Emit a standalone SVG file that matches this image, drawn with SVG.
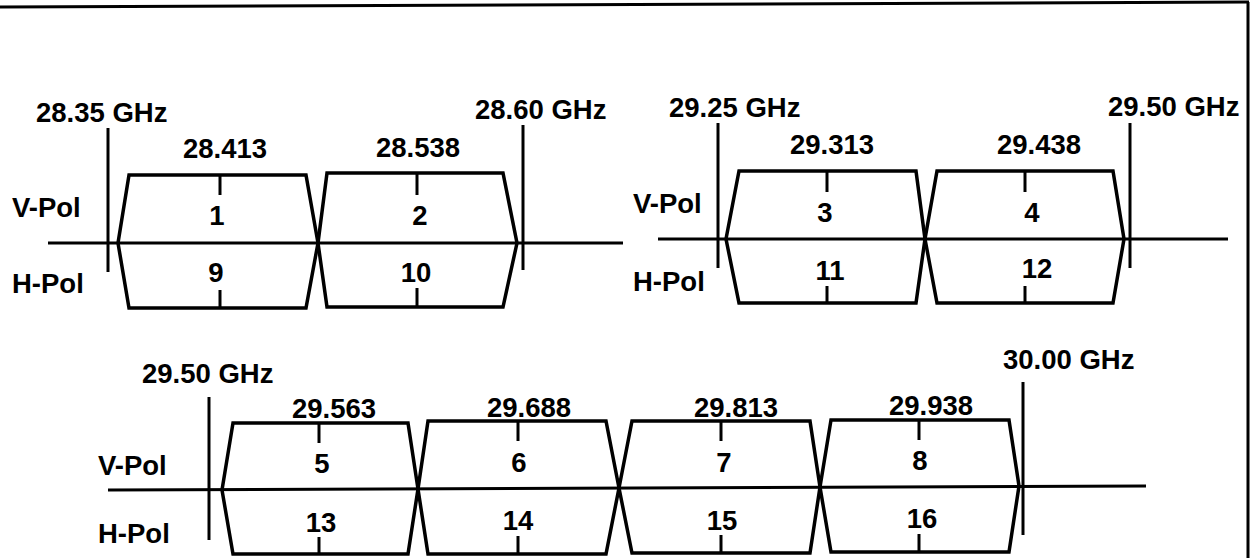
<svg xmlns="http://www.w3.org/2000/svg" width="1253" height="558" viewBox="0 0 1253 558">
<style>
text{font-family:"Liberation Sans",Arial,sans-serif;font-weight:bold;font-size:27.5px;fill:#000}
.c{text-anchor:middle}
.ch{fill:none;stroke:#000;stroke-width:3.5;stroke-linejoin:miter}
.tk{stroke:#000;stroke-width:3}
.ax{stroke:#000;stroke-width:3}
.bd{stroke:#000;stroke-width:3}
.fr{stroke:#000;stroke-width:3;fill:none}
</style>
<rect x="0" y="0" width="1253" height="558" fill="#fff"/>
<g id="frame">
<line class="fr" x1="0" y1="7" x2="1249" y2="2"/>
<line class="fr" x1="1248" y1="2" x2="1248" y2="558"/>
</g>
<g id="connectors">
<line class="ax" x1="48" y1="243" x2="623" y2="243"/>
<line class="ax" x1="658" y1="239" x2="1228" y2="239"/>
<line class="ax" x1="108" y1="490" x2="1146" y2="486"/>
<line class="bd" x1="108" y1="128" x2="108" y2="272"/>
<line class="bd" x1="523" y1="125" x2="523" y2="270"/>
<line class="bd" x1="718" y1="123" x2="718" y2="268"/>
<line class="bd" x1="1130" y1="123" x2="1130" y2="268"/>
<line class="bd" x1="209" y1="397" x2="209" y2="540"/>
<line class="bd" x1="1023" y1="382" x2="1023" y2="535"/>
</g>
<g id="bandlabels">
<text x="36" y="122">28.35 GHz</text>
<text x="475" y="119">28.60 GHz</text>
<text x="669" y="117">29.25 GHz</text>
<text x="1108" y="116">29.50 GHz</text>
<text x="142" y="383">29.50 GHz</text>
<text x="1003" y="369">30.00 GHz</text>
</g>
<g id="pollabels">
<text x="12" y="217">V-Pol</text>
<text x="12" y="293">H-Pol</text>
<text x="633" y="213">V-Pol</text>
<text x="633" y="291">H-Pol</text>
<text x="98" y="475">V-Pol</text>
<text x="98" y="543">H-Pol</text>
</g>
<g id="ch1-9">
<polygon class="ch" points="118,243 129,175 306,175 318,243 306,308 129,308"/>
<line class="tk" x1="220" y1="175" x2="220" y2="195"/>
<line class="tk" x1="220" y1="290" x2="220" y2="308"/>
<text class="c" x="225" y="158">28.413</text>
<text class="c" x="217" y="225">1</text>
<text class="c" x="216" y="282">9</text>
</g>
<g id="ch2-10">
<polygon class="ch" points="318,243 327,173 503,173 517,243 503,307 327,307"/>
<line class="tk" x1="417" y1="173" x2="417" y2="195"/>
<line class="tk" x1="417" y1="288" x2="417" y2="307"/>
<text class="c" x="418" y="157">28.538</text>
<text class="c" x="420" y="225">2</text>
<text class="c" x="416" y="282">10</text>
</g>
<g id="ch3-11">
<polygon class="ch" points="726,239 739,171 916,171 925,239 916,303 739,303"/>
<line class="tk" x1="827" y1="171" x2="827" y2="192"/>
<line class="tk" x1="827" y1="286" x2="827" y2="303"/>
<text class="c" x="832" y="154">29.313</text>
<text class="c" x="825" y="222">3</text>
<text class="c" x="830" y="280">11</text>
</g>
<g id="ch4-12">
<polygon class="ch" points="925,239 937,171 1113,171 1124,239 1113,303 937,303"/>
<line class="tk" x1="1025" y1="171" x2="1025" y2="192"/>
<line class="tk" x1="1025" y1="286" x2="1025" y2="303"/>
<text class="c" x="1039" y="154">29.438</text>
<text class="c" x="1032" y="222">4</text>
<text class="c" x="1037" y="278">12</text>
</g>
<g id="ch5-13">
<polygon class="ch" points="222,490 233,423 408,423 418,489 408,554 233,554"/>
<line class="tk" x1="319" y1="423" x2="319" y2="443"/>
<line class="tk" x1="319" y1="537" x2="319" y2="554"/>
<text class="c" x="334" y="418">29.563</text>
<text class="c" x="322" y="473">5</text>
<text class="c" x="321" y="532">13</text>
</g>
<g id="ch6-14">
<polygon class="ch" points="418,489 428,421 606,421 619,488 606,554 428,554"/>
<line class="tk" x1="518" y1="421" x2="518" y2="441"/>
<line class="tk" x1="518" y1="536" x2="518" y2="554"/>
<text class="c" x="529" y="417">29.688</text>
<text class="c" x="519" y="472">6</text>
<text class="c" x="518" y="530">14</text>
</g>
<g id="ch7-15">
<polygon class="ch" points="619,488 632,421 810,421 820,487 810,553 632,553"/>
<line class="tk" x1="721" y1="421" x2="721" y2="441"/>
<line class="tk" x1="721" y1="535" x2="721" y2="553"/>
<text class="c" x="736" y="417">29.813</text>
<text class="c" x="724" y="472">7</text>
<text class="c" x="722" y="530">15</text>
</g>
<g id="ch8-16">
<polygon class="ch" points="820,487 831,420 1009,420 1019,486 1009,552 831,552"/>
<line class="tk" x1="919" y1="420" x2="919" y2="440"/>
<line class="tk" x1="919" y1="534" x2="919" y2="552"/>
<text class="c" x="931" y="415">29.938</text>
<text class="c" x="920" y="470">8</text>
<text class="c" x="922" y="528">16</text>
</g>
</svg>
